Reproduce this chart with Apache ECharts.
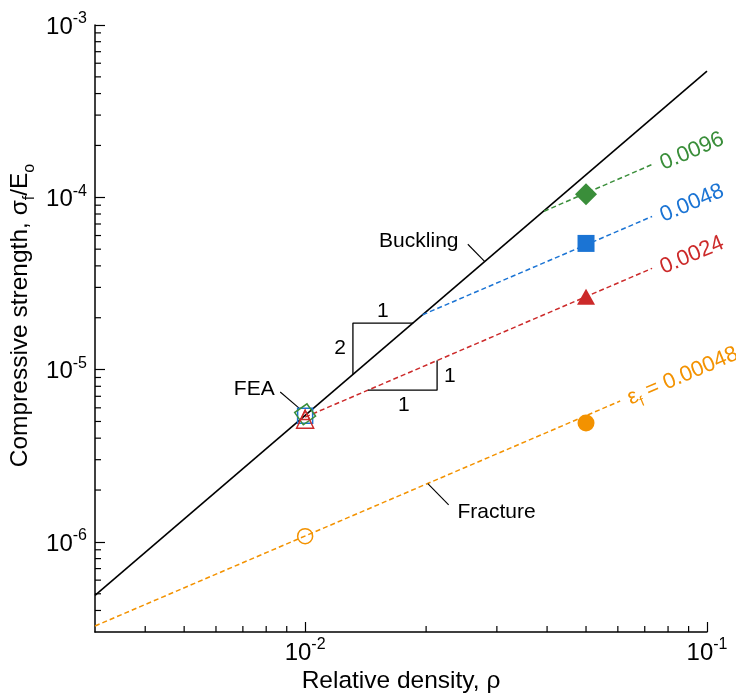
<!DOCTYPE html>
<html>
<head>
<meta charset="utf-8">
<script src="https://cdn.jsdelivr.net/npm/echarts@6/dist/echarts.min.js"></script>
<style>
  html, body { margin: 0; padding: 0; background: #fff; }
  #chart { width: 736px; height: 694px; }
</style>
</head>
<body>
<div id="chart"></div>
<script>
const FONT = '"Liberation Sans", Arial, Helvetica, sans-serif';
const GREEN = '#3a8e3a', BLUE = '#1b74d4', RED = '#cc2a2a', ORANGE = '#f39200';

// axis ranges
const xRange = [0.003, 0.1];
const yRange = [3e-7, 1e-3];

// model lines, endpoints [relative density, strength]
const bucklingLine = [[0.003, 4.9e-7], [0.1, 5.4e-4]];
const fractureLine = [[0.003, 3.25e-7], [0.0608, 6.57e-6]];
const line0024 = [[0.01, 5.3e-6], [0.073, 3.87e-5]];
const line0048 = [[0.0196, 2.08e-5], [0.073, 7.74e-5]];
const line0096 = [[0.0393, 8.3e-5], [0.073, 1.55e-4]];

// measured points at rho = 0.05
const exp0096 = [[0.05, 1.04e-4]];
const exp0048 = [[0.05, 5.4e-5]];
const exp0024 = [[0.05, 2.65e-5]];
const exp00048 = [[0.05, 4.9e-6]];

// FEA points at rho = 0.01
const fea0096 = [[0.01, 5.5e-6]];
const fea0048 = [[0.01, 5.4e-6]];
const fea0024 = [[0.01, 5.15e-6]];
const fea0024b = [[0.01, 5.45e-6]];
const feaFracture = [[0.01, 1.08e-6]];

// slope triangles
const slopeTri2 = [[0.01315, 9.34e-6], [0.01315, 1.862e-5], [0.01857, 1.862e-5]];
const slopeTri1 = [[0.01434, 7.6e-6], [0.0213, 7.6e-6], [0.0213, 1.129e-5]];
const slopeLabels = [
  [0.01221, 1.333e-5, '2'], [0.01562, 2.18e-5, '1'],
  [0.0229, 9.17e-6, '1'], [0.0176, 6.22e-6, '1']
];

// annotation labels with leader lines
const bucklingLeader = [[0.0254, 5.34e-5], [0.028, 4.23e-5]];
const fractureLeader = [[0.0202, 2.18e-6], [0.02276, 1.64e-6]];
const feaLeader = [[0.00867, 7.41e-6], [0.00966, 5.98e-6]];
const annotLabels = [
  [0.01918, 5.56e-5, 'Buckling'],
  [0.02995, 1.493e-6, 'Fracture'],
  [0.00747, 7.71e-6, 'FEA']
];

// minor tick values
const xMinorTicks = [0.004, 0.005, 0.006, 0.007, 0.008, 0.009,
  0.02, 0.03, 0.04, 0.05, 0.06, 0.07, 0.08, 0.09];
const yMinorTicks = [4e-7, 5e-7, 6e-7, 7e-7, 8e-7, 9e-7,
  2e-6, 3e-6, 4e-6, 5e-6, 6e-6, 7e-6, 8e-6, 9e-6,
  2e-5, 3e-5, 4e-5, 5e-5, 6e-5, 7e-5, 8e-5, 9e-5,
  2e-4, 3e-4, 4e-4, 5e-4, 6e-4, 7e-4, 8e-4, 9e-4];

const chart = echarts.init(document.getElementById('chart'), null, { renderer: 'canvas' });

function powLabel(v) {
  const e = Math.log10(v);
  const r = Math.round(e);
  if (Math.abs(e - r) > 1e-6) return '';
  return '{b|10}{s|' + r + '}';
}

const tickRich = {
  b: { fontFamily: FONT, fontSize: 24, color: '#000', verticalAlign: 'bottom' },
  s: { fontFamily: FONT, fontSize: 16, color: '#000', verticalAlign: 'bottom', padding: [0, 0, 12, 0] }
};

function dashed(data, color) {
  return {
    type: 'line', data: data, symbol: 'none', silent: true, z: 3,
    lineStyle: { color: color, width: 1.5, type: [5, 3] }
  };
}
function solid(data, width) {
  return {
    type: 'line', data: data, symbol: 'none', silent: true, z: 3,
    lineStyle: { color: '#000', width: width }
  };
}
function marker(data, symbol, size, color, filled, rotate) {
  return {
    type: 'scatter', data: data, symbol: symbol, symbolSize: size, z: 5,
    symbolRotate: rotate || 0, silent: true,
    itemStyle: filled
      ? { color: color, opacity: 1 }
      : { color: 'rgba(255,255,255,0)', borderColor: color, borderWidth: 1.5, opacity: 1 }
  };
}
function endLabel(point, text, color, rich) {
  return {
    type: 'scatter', data: [point], symbolSize: 0, silent: true, z: 6,
    itemStyle: { opacity: 1 },
    label: {
      show: true, position: 'right', distance: 9, rotate: 23,
      formatter: text, color: color, fontFamily: FONT, fontSize: 22,
      opacity: 1, rich: rich || {}
    }
  };
}
function textMarks(items) {
  return {
    type: 'scatter', silent: true, z: 6, symbolSize: 0,
    itemStyle: { opacity: 1 },
    data: items.map(d => ({ value: [d[0], d[1]], name: d[2] })),
    label: {
      show: true, position: 'inside', formatter: p => p.name,
      color: '#000', opacity: 1, fontFamily: FONT, fontSize: 21
    }
  };
}
function minorTicks(data, horizontal) {
  return {
    type: 'custom', silent: true, z: 4, clip: false,
    data: data,
    renderItem: (params, api) => {
      const p = api.coord([api.value(0), api.value(1)]);
      return {
        type: 'line',
        shape: horizontal
          ? { x1: p[0], y1: p[1], x2: p[0] + 6, y2: p[1] }
          : { x1: p[0], y1: p[1], x2: p[0], y2: p[1] - 6 },
        style: { stroke: '#000', lineWidth: 1.2 }
      };
    }
  };
}

const option = {
  animation: false,
  backgroundColor: '#fff',
  grid: {
    left: 95, right: 29, top: 25, bottom: 62,
    containLabel: false, outerBoundsMode: 'none'
  },
  xAxis: {
    type: 'log', logBase: 10, min: xRange[0], max: xRange[1],
    name: 'Relative density, ρ', nameLocation: 'middle', nameGap: 37,
    nameMoveOverlap: false,
    nameTextStyle: { fontFamily: FONT, fontSize: 24.5, color: '#000' },
    axisLine: { show: true, lineStyle: { color: '#000', width: 1.5 } },
    axisTick: { show: true, inside: true, length: 10, lineStyle: { color: '#000', width: 1.2 } },
    axisLabel: { show: true, margin: 5, showMinLabel: false, formatter: powLabel, rich: tickRich },
    splitLine: { show: false }
  },
  yAxis: {
    type: 'log', logBase: 10, min: yRange[0], max: yRange[1],
    name: '{m|Compressive strength, σ}{sub|f}{m|/E}{sub|o}',
    nameLocation: 'middle', nameGap: 57, nameMoveOverlap: false,
    nameTextStyle: {
      fontFamily: FONT, fontSize: 24.5, color: '#000', padding: [0, 0, 0, 26],
      rich: {
        m: { fontFamily: FONT, fontSize: 24.5, color: '#000', verticalAlign: 'bottom', padding: [0, 0, 5, 0] },
        sub: { fontFamily: FONT, fontSize: 16, color: '#000', verticalAlign: 'bottom' }
      }
    },
    axisLine: { show: true, lineStyle: { color: '#000', width: 1.5 } },
    axisTick: { show: true, inside: true, length: 10, lineStyle: { color: '#000', width: 1.2 } },
    axisLabel: { show: true, margin: 8, showMinLabel: false, formatter: powLabel, rich: tickRich },
    splitLine: { show: false }
  },
  series: [
    minorTicks(xMinorTicks.map(v => [v, yRange[0]]), false),
    minorTicks(yMinorTicks.map(v => [xRange[0], v]), true),

    solid(bucklingLine, 1.6),
    dashed(fractureLine, ORANGE),
    dashed(line0024, RED),
    dashed(line0048, BLUE),
    dashed(line0096, GREEN),

    solid(slopeTri2, 1.3),
    solid(slopeTri1, 1.3),
    solid(bucklingLeader, 1.1),
    solid(fractureLeader, 1.1),
    solid(feaLeader, 1.1),
    textMarks(slopeLabels),
    textMarks(annotLabels),

    marker(exp0096, 'diamond', [22, 22], GREEN, true),
    marker(exp0048, 'rect', 17, BLUE, true),
    marker(exp0024, 'triangle', [18, 16], RED, true),
    marker(exp00048, 'circle', 17, ORANGE, true),

    marker(feaFracture, 'circle', 15, ORANGE, false),
    marker(fea0048, 'rect', 15, BLUE, false),
    marker(fea0096, 'rect', 15, GREEN, false, 35),
    marker(fea0024, 'triangle', [17, 18], RED, false),
    marker(fea0024b, 'triangle', [9, 9], RED, false),

    endLabel(line0096[1], '0.0096', GREEN),
    endLabel(line0048[1], '0.0048', BLUE),
    endLabel(line0024[1], '0.0024', RED),
    endLabel(fractureLine[1], '{e|ε}{sub|f}{t| = 0.00048}', ORANGE, {
      e: { fontFamily: FONT, fontSize: 22, color: ORANGE, verticalAlign: 'bottom', padding: [0, 0, 4, 0] },
      sub: { fontFamily: FONT, fontSize: 14, color: ORANGE, verticalAlign: 'bottom' },
      t: { fontFamily: FONT, fontSize: 22, color: ORANGE, verticalAlign: 'bottom', padding: [0, 0, 4, 0] }
    })
  ]
};

chart.setOption(option);
</script>
</body>
</html>
